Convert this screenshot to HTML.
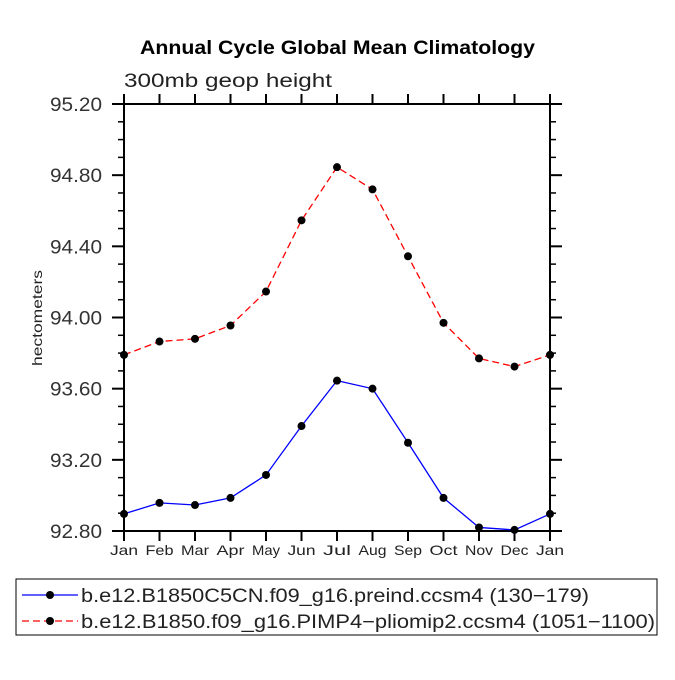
<!DOCTYPE html>
<html><head><meta charset="utf-8"><style>
body{margin:0;background:#fff}
svg text{font-family:"Liberation Sans",sans-serif}
</style></head><body>
<svg id="c" width="675" height="675" viewBox="0 0 675 675">
<text x="140" y="54" textLength="395" lengthAdjust="spacingAndGlyphs" font-size="19" font-weight="bold">Annual Cycle Global Mean Climatology</text>
<text x="124" y="87" textLength="208" lengthAdjust="spacingAndGlyphs" font-size="19" fill="#222">300mb  geop height</text>
<text transform="translate(42,318) rotate(-90)" text-anchor="middle" font-size="14" fill="#222" textLength="96" lengthAdjust="spacingAndGlyphs">hectometers</text>
<g id="axes"></g>
<g id="series"></g>
<rect x="16" y="579" width="641" height="56" fill="none" stroke="#000" stroke-width="1"/>
<g>
<line x1="22" y1="595" x2="78" y2="595" stroke="#00f" stroke-width="1.3"/>
<circle cx="50" cy="595" r="4" fill="#000"/>
<text x="81" y="602" font-size="19" fill="#222" textLength="508" lengthAdjust="spacingAndGlyphs">b.e12.B1850C5CN.f09_g16.preind.ccsm4 (130−179)</text>
</g>
<g>
<line x1="22" y1="621" x2="78" y2="621" stroke="#f00" stroke-width="1.3" stroke-dasharray="7,4"/>
<circle cx="50" cy="621" r="4" fill="#000"/>
<text x="81" y="628" font-size="19" fill="#222" textLength="574" lengthAdjust="spacingAndGlyphs">b.e12.B1850.f09_g16.PIMP4−pliomip2.ccsm4 (1051−1100)</text>
</g>
</svg>
<script>
const months=["Jan","Feb","Mar","Apr","May","Jun","Jul","Aug","Sep","Oct","Nov","Dec","Jan"];
const preind=[92.896,92.958,92.946,92.986,93.115,93.39,93.645,93.60,93.296,92.986,92.82,92.806,92.896];
const pliomip=[93.79,93.865,93.88,93.955,94.146,94.546,94.845,94.72,94.344,93.97,93.77,93.724,93.79];
const yTicks=["92.80","93.20","93.60","94.00","94.40","94.80","95.20"];
const L=124,R=550,T=104,B=531,ymin=92.8,ymax=95.2;
const xs=i=>L+(R-L)*i/12;
const ys=v=>B-(v-ymin)/(ymax-ymin)*(B-T);
const NS="http://www.w3.org/2000/svg";
function mk(t,a,p){const e=document.createElementNS(NS,t);for(const k in a)e.setAttribute(k,a[k]);p.appendChild(e);return e;}
const ax=document.getElementById('axes'),se=document.getElementById('series');
const frame=mk('rect',{x:L,y:T,width:R-L,height:B-T,fill:'none',stroke:'#000','stroke-width':2},ax);


months.forEach((m,i)=>{
  const x=xs(i);
  mk('line',{x1:x,y1:B,x2:x,y2:B+10,stroke:'#000','stroke-width':2},ax);
  mk('line',{x1:x,y1:T,x2:x,y2:T-10,stroke:'#000','stroke-width':2},ax);
  const t=mk('text',{x:x,y:B+24,'text-anchor':'middle','font-size':14,fill:'#222',textLength:28,lengthAdjust:'spacingAndGlyphs'},ax);
  t.textContent=m;
  
  
});
yTicks.forEach(s=>{
  const v=parseFloat(s),y=ys(v);
  mk('line',{x1:L-12,y1:y,x2:L,y2:y,stroke:'#000','stroke-width':2},ax);
  mk('line',{x1:R,y1:y,x2:R+12,y2:y,stroke:'#000','stroke-width':2},ax);
  const t=mk('text',{x:L-22,y:y+7,'text-anchor':'end','font-size':19,fill:'#333',textLength:52,lengthAdjust:'spacingAndGlyphs'},ax);
  t.textContent=s;
  
  
  if(v<ymax){for(let k=1;k<4;k++){const yy=ys(v+0.1*k);
    mk('line',{x1:L-6,y1:yy,x2:L,y2:yy,stroke:'#000','stroke-width':1.5},ax);
    mk('line',{x1:R,y1:yy,x2:R+6,y2:yy,stroke:'#000','stroke-width':1.5},ax);}}
});
function draw(vals,color,dash,name){
  const g=mk('g',{},se);
  
  
  mk('polyline',{points:vals.map((v,i)=>xs(i)+','+ys(v)).join(' '),fill:'none',stroke:color,'stroke-width':1.3,'stroke-dasharray':dash},g);
  vals.forEach((v,i)=>{const c=mk('circle',{cx:xs(i),cy:ys(v),r:4,fill:'#000'},g);
    
    });
}
draw(preind,'#00f','none','series-preind');
draw(pliomip,'#f00','7,4','series-pliomip');
</script>
</body></html>
